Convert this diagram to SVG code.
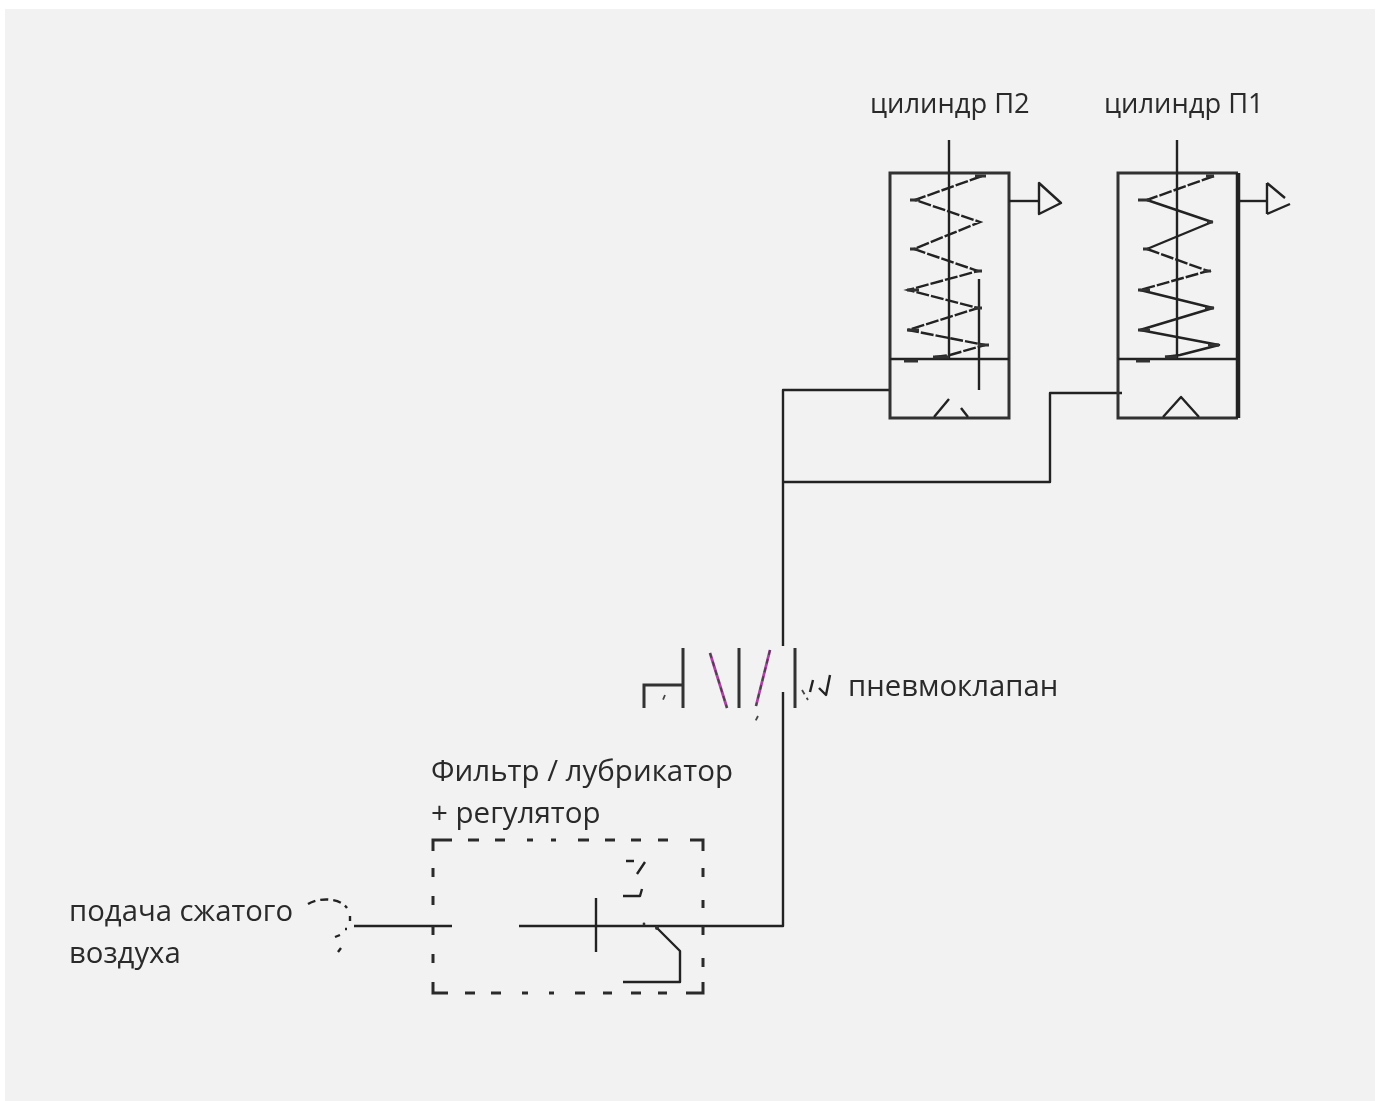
<svg xmlns="http://www.w3.org/2000/svg" width="1383" height="1101" viewBox="0 0 1383 1101">
<defs>
<style>
.l{fill:none;stroke:#222;stroke-width:2.4;stroke-linejoin:round}
.t{fill:none;stroke:#333;stroke-width:3}
.s{fill:none;stroke:#222;stroke-width:2.4;stroke-dasharray:13 2}
.f{fill:none;stroke:#444;stroke-width:1.8;stroke-dasharray:5 4}
.p{fill:none;stroke:#b040a8;stroke-width:2.8}
.r{fill:none;stroke:#2a2a2a;stroke-width:3}
text{font-family:"Open Sans","Noto Sans",sans-serif;font-size:29.3px;fill:#2a2a2a}
.c{font-size:27.3px}
</style>
<filter id="b" x="-5%" y="-5%" width="110%" height="110%"><feGaussianBlur stdDeviation="0.7"/></filter>
</defs>
<rect width="1383" height="1101" fill="#fff"/>
<rect x="5" y="9" width="1370" height="1092" fill="#f2f2f2"/>
<g filter="url(#b)">
<g id="connectors">
<path class="l" d="M890 390H783V646M783 482H1050V393H1122"/>
<path class="l" d="M783 692V926H700"/>
<path class="l" d="M354 926H452M519 926H700"/>
</g>
<g id="cylinder-p2">
<rect class="t" x="890" y="173" width="119" height="245"/>
<path class="l" d="M890 359H1009M949 140V358M979 279V390"/>
<path class="s" d="M982 176L915 200L980 222L914 249L978 271L908 290L978 308L908 330L985 345L950 355L935 357"/>
<path class="t" d="M910 200H920M910 249H918M907 290H919M907 330H919M978 345H989M975 176H986M933 357H949M904 361H918M976 271H982M974 308H982"/>
<path class="l" d="M934 417L949 399M961 408L968 417"/>
<path class="l" d="M1009 201H1038"/>
<path class="l" stroke-width="2.6" d="M1039 183V214L1061 203Z"/>
</g>
<g id="cylinder-p1">
<path class="t" d="M1238 173H1118V418H1238"/>
<path d="M1238 173V418" fill="none" stroke="#222" stroke-width="4.5"/>
<path class="l" d="M1118 359H1238M1177 140V358"/>
<path class="l" d="M1147 200L1212 222L1147 249M1140 290L1213 308L1140 330L1219 345L1180 355L1165 357"/>
<path class="s" d="M1214 176L1147 200M1147 249L1208 271L1140 290"/>
<path class="t" d="M1138 200H1150M1207 222H1213M1138 290H1150M1138 330H1150M1208 345H1219M1165 357H1177M1136 361H1150M1205 308H1214M1143 249H1149M1204 271H1211M1206 176H1214"/>
<path class="l" d="M1163 417L1181 397L1199 417"/>
<path class="l" d="M1238 201H1267"/>
<path class="l" stroke-width="1.8" d="M1267 183V214M1267 183L1285 198M1290 204L1267 214"/>
</g>
<g id="valve">
<path class="t" d="M683 648V708M644 708V685H683M739 648V708M795 648V708"/>
<path class="p" d="M710 653L727 708M770 650L756 706"/>
<path class="f" d="M710 653L727 708M770 650L756 706" stroke="#333"/>
<path class="f" d="M665 695L662 702M758 716L755 722M802 690L808 700"/>
<path class="l" d="M810 692L813 680M819 688L826 695L830 675" stroke-width="1.8"/>
</g>
<g id="regulator">
<path class="r" d="M433 851V840H452M703 851V840H690M433 982V993H448M703 982V993H686"/>
<path class="r" d="M468 840H479M495 840H505M527 840H533M551 840H556M578 840H589M605 840H615M631 840H641M658 840H668M433 868V877M433 896V905M433 926V935M433 954V963M703 868V877M703 900V908M703 926V935M703 958V967M465 993H475M491 993H501M522 993H528M549 993H554M575 993H585M603 993H612M631 993H641M658 993H667"/>
<path class="l" d="M596 898V952"/>
<path class="l" d="M656 927L680 951V982H623" stroke-width="2.8"/>
<circle cx="644" cy="924" r="1.4" fill="#333"/><circle cx="657" cy="928" r="2" fill="#333"/>
<path class="l" stroke-width="1.6" d="M626 861H634M645 862L637 874M623 896H640L642 889"/>
</g>
<g id="inlet">
<path class="l" stroke-width="2.4" stroke-dasharray="8 5" d="M308 904C320 897 340 898 347 908"/>
<path class="l" stroke-width="1.8" d="M350 916V921M347 929H345M340 935L335 937M341 948L338 952"/>
</g>
<g id="labels">
<text class="c" x="870" y="113">цилиндр П2</text>
<text class="c" x="1104" y="113">цилиндр П1</text>
<text x="848" y="696">пневмоклапан</text>
<text x="431" y="781" style="font-size:29.5px">Фильтр / лубрикатор</text>
<text x="431" y="823" style="font-size:29.5px">+ регулятор</text>
<text x="69" y="921">подача сжатого</text>
<text x="69" y="963">воздуха</text>
</g>
</g>
</svg>
